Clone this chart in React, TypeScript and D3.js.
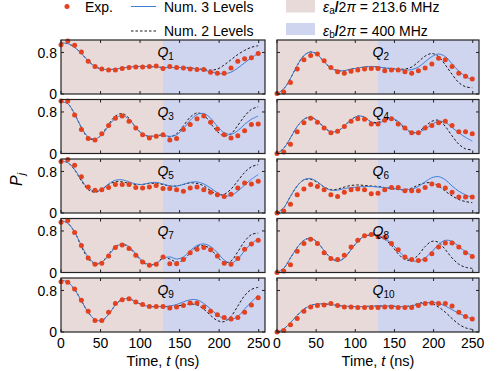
import React from 'react';
import * as d3 from 'd3';

// sample times (ns) shared by the measured points and the simulated curves
const TIMES = [0, 8.6, 17.2, 25.8, 34.4, 43, 51.6, 60.2, 68.8, 77.4, 86, 94.6, 103.2, 111.8, 120.4, 129, 137.6, 146.2, 154.8, 163.4, 172, 180.6, 189.2, 197.8, 206.4, 215, 223.6, 232.2, 240.8, 249.4];
const X_TICKS = [0, 50, 100, 150, 200, 250];
const Y_TICKS = [0, 0.8];
const SWITCH_T = 129;

const Q1_EXP = [0.95, 1.02, 0.94, 0.81, 0.63, 0.53, 0.48, 0.46, 0.46, 0.49, 0.51, 0.52, 0.52, 0.53, 0.54, 0.49, 0.53, 0.51, 0.5, 0.48, 0.47, 0.47, 0.42, 0.4, 0.4, 0.5, 0.63, 0.68, 0.7, 0.78];
const Q1_NUM3 = [0.98, 0.97, 0.9, 0.78, 0.64, 0.53, 0.48, 0.47, 0.48, 0.5, 0.52, 0.53, 0.53, 0.53, 0.52, 0.51, 0.51, 0.51, 0.51, 0.5, 0.48, 0.46, 0.43, 0.4, 0.39, 0.42, 0.5, 0.6, 0.7, 0.78];
const Q1_NUM2 = [0.98, 0.97, 0.9, 0.78, 0.64, 0.53, 0.48, 0.47, 0.48, 0.5, 0.52, 0.53, 0.53, 0.53, 0.52, 0.51, 0.51, 0.51, 0.51, 0.5, 0.49, 0.47, 0.46, 0.48, 0.56, 0.66, 0.76, 0.84, 0.9, 0.93];

const Q2_EXP = [0.01, 0.04, 0.22, 0.48, 0.66, 0.74, 0.77, 0.64, 0.51, 0.43, 0.4, 0.44, 0.46, 0.48, 0.49, 0.49, 0.45, 0.46, 0.46, 0.43, 0.4, 0.45, 0.5, 0.58, 0.69, 0.66, 0.53, 0.4, 0.34, 0.29];
const Q2_NUM3 = [0, 0.1, 0.3, 0.55, 0.74, 0.81, 0.76, 0.62, 0.5, 0.45, 0.45, 0.48, 0.5, 0.52, 0.53, 0.52, 0.5, 0.49, 0.47, 0.46, 0.47, 0.52, 0.62, 0.72, 0.77, 0.72, 0.58, 0.44, 0.34, 0.27];
const Q2_NUM2 = [0, 0.1, 0.3, 0.55, 0.74, 0.81, 0.76, 0.62, 0.5, 0.45, 0.45, 0.48, 0.5, 0.52, 0.53, 0.52, 0.5, 0.49, 0.48, 0.48, 0.52, 0.62, 0.73, 0.78, 0.72, 0.56, 0.38, 0.22, 0.14, 0.12];

const Q3_EXP = [1.01, 1.01, 0.74, 0.46, 0.29, 0.26, 0.38, 0.54, 0.68, 0.72, 0.62, 0.49, 0.36, 0.3, 0.33, 0.36, 0.26, 0.29, 0.46, 0.56, 0.67, 0.72, 0.6, 0.47, 0.36, 0.3, 0.34, 0.44, 0.56, 0.57];
const Q3_NUM3 = [1, 0.96, 0.76, 0.5, 0.32, 0.28, 0.36, 0.53, 0.68, 0.73, 0.66, 0.5, 0.38, 0.33, 0.34, 0.35, 0.33, 0.36, 0.48, 0.64, 0.75, 0.77, 0.68, 0.52, 0.4, 0.37, 0.44, 0.56, 0.66, 0.72];
const Q3_NUM2 = [1, 0.96, 0.76, 0.5, 0.3, 0.27, 0.37, 0.56, 0.72, 0.77, 0.68, 0.5, 0.37, 0.33, 0.35, 0.35, 0.32, 0.38, 0.53, 0.7, 0.78, 0.74, 0.58, 0.42, 0.34, 0.38, 0.54, 0.72, 0.85, 0.9];

const Q4_EXP = [0, 0.03, 0.18, 0.42, 0.59, 0.68, 0.6, 0.49, 0.4, 0.43, 0.52, 0.62, 0.67, 0.66, 0.57, 0.57, 0.64, 0.67, 0.57, 0.49, 0.4, 0.4, 0.49, 0.54, 0.59, 0.62, 0.54, 0.42, 0.42, 0.38];
const Q4_NUM3 = [0, 0.1, 0.3, 0.52, 0.66, 0.7, 0.63, 0.5, 0.42, 0.43, 0.53, 0.65, 0.72, 0.7, 0.6, 0.58, 0.64, 0.68, 0.62, 0.5, 0.41, 0.41, 0.47, 0.56, 0.62, 0.6, 0.5, 0.4, 0.31, 0.24];
const Q4_NUM2 = [0, 0.1, 0.3, 0.52, 0.66, 0.7, 0.63, 0.5, 0.42, 0.43, 0.53, 0.65, 0.72, 0.7, 0.61, 0.6, 0.66, 0.68, 0.6, 0.48, 0.4, 0.42, 0.52, 0.62, 0.64, 0.52, 0.34, 0.18, 0.09, 0.07];

const Q5_EXP = [0.99, 1.03, 0.92, 0.7, 0.5, 0.44, 0.45, 0.49, 0.55, 0.55, 0.55, 0.49, 0.48, 0.5, 0.53, 0.47, 0.47, 0.45, 0.42, 0.48, 0.5, 0.45, 0.4, 0.35, 0.32, 0.36, 0.48, 0.58, 0.56, 0.61];
const Q5_NUM3 = [1, 0.97, 0.84, 0.64, 0.48, 0.42, 0.46, 0.56, 0.63, 0.64, 0.6, 0.56, 0.55, 0.58, 0.59, 0.56, 0.52, 0.52, 0.55, 0.59, 0.6, 0.56, 0.48, 0.39, 0.33, 0.34, 0.42, 0.54, 0.65, 0.74];
const Q5_NUM2 = [1, 0.97, 0.83, 0.62, 0.45, 0.4, 0.45, 0.55, 0.6, 0.6, 0.57, 0.55, 0.55, 0.57, 0.57, 0.55, 0.52, 0.52, 0.55, 0.58, 0.57, 0.52, 0.43, 0.36, 0.36, 0.46, 0.62, 0.78, 0.89, 0.93];

const Q6_EXP = [0, 0.04, 0.17, 0.35, 0.46, 0.55, 0.51, 0.45, 0.35, 0.32, 0.4, 0.45, 0.46, 0.45, 0.37, 0.38, 0.45, 0.49, 0.49, 0.43, 0.43, 0.43, 0.49, 0.56, 0.53, 0.48, 0.4, 0.31, 0.31, 0.31];
const Q6_NUM3 = [0, 0.1, 0.32, 0.52, 0.64, 0.66, 0.6, 0.5, 0.44, 0.44, 0.47, 0.49, 0.5, 0.51, 0.51, 0.5, 0.49, 0.48, 0.46, 0.45, 0.46, 0.51, 0.6, 0.68, 0.7, 0.64, 0.52, 0.42, 0.35, 0.3];
const Q6_NUM2 = [0, 0.1, 0.32, 0.52, 0.64, 0.65, 0.59, 0.5, 0.45, 0.46, 0.5, 0.53, 0.54, 0.53, 0.52, 0.51, 0.49, 0.47, 0.45, 0.45, 0.48, 0.54, 0.58, 0.58, 0.52, 0.42, 0.33, 0.26, 0.22, 0.2];

const Q7_EXP = [0.97, 1, 0.77, 0.52, 0.28, 0.16, 0.18, 0.32, 0.48, 0.53, 0.46, 0.33, 0.2, 0.14, 0.16, 0.3, 0.17, 0.17, 0.25, 0.38, 0.45, 0.48, 0.44, 0.32, 0.18, 0.16, 0.27, 0.45, 0.55, 0.62];
const Q7_NUM3 = [1, 0.95, 0.78, 0.52, 0.3, 0.18, 0.2, 0.33, 0.48, 0.55, 0.5, 0.36, 0.22, 0.15, 0.17, 0.27, 0.3, 0.26, 0.3, 0.42, 0.52, 0.55, 0.5, 0.38, 0.24, 0.18, 0.26, 0.42, 0.56, 0.64];
const Q7_NUM2 = [1, 0.95, 0.78, 0.5, 0.27, 0.16, 0.2, 0.35, 0.5, 0.55, 0.48, 0.34, 0.2, 0.14, 0.18, 0.28, 0.26, 0.2, 0.24, 0.38, 0.5, 0.52, 0.45, 0.3, 0.19, 0.22, 0.4, 0.6, 0.73, 0.76];

const Q8_EXP = [0, 0.03, 0.15, 0.41, 0.56, 0.64, 0.56, 0.38, 0.27, 0.25, 0.33, 0.49, 0.62, 0.71, 0.73, 0.69, 0.68, 0.56, 0.44, 0.3, 0.25, 0.23, 0.25, 0.36, 0.49, 0.57, 0.57, 0.49, 0.38, 0.31];
const Q8_NUM3 = [0, 0.08, 0.28, 0.48, 0.62, 0.66, 0.58, 0.42, 0.28, 0.22, 0.28, 0.44, 0.6, 0.7, 0.72, 0.71, 0.66, 0.56, 0.42, 0.3, 0.23, 0.22, 0.28, 0.4, 0.54, 0.62, 0.6, 0.5, 0.4, 0.32];
const Q8_NUM2 = [0, 0.08, 0.28, 0.48, 0.62, 0.66, 0.58, 0.42, 0.28, 0.22, 0.28, 0.44, 0.6, 0.7, 0.72, 0.7, 0.64, 0.52, 0.36, 0.25, 0.24, 0.34, 0.5, 0.6, 0.58, 0.44, 0.28, 0.16, 0.1, 0.08];

const Q9_EXP = [0.97, 0.96, 0.83, 0.61, 0.4, 0.22, 0.22, 0.38, 0.55, 0.62, 0.64, 0.58, 0.53, 0.49, 0.49, 0.49, 0.46, 0.48, 0.51, 0.56, 0.56, 0.48, 0.4, 0.33, 0.28, 0.25, 0.28, 0.38, 0.52, 0.66];
const Q9_NUM3 = [1, 0.96, 0.82, 0.6, 0.38, 0.24, 0.22, 0.34, 0.52, 0.63, 0.64, 0.58, 0.52, 0.49, 0.49, 0.49, 0.5, 0.53, 0.58, 0.62, 0.62, 0.55, 0.44, 0.33, 0.26, 0.24, 0.3, 0.44, 0.58, 0.7];
const Q9_NUM2 = [1, 0.96, 0.82, 0.6, 0.38, 0.24, 0.22, 0.34, 0.52, 0.63, 0.64, 0.58, 0.52, 0.49, 0.49, 0.49, 0.49, 0.5, 0.52, 0.54, 0.52, 0.44, 0.32, 0.22, 0.2, 0.3, 0.5, 0.7, 0.82, 0.86];

const Q10_EXP = [0, 0.03, 0.14, 0.26, 0.4, 0.48, 0.51, 0.52, 0.55, 0.51, 0.48, 0.48, 0.47, 0.47, 0.47, 0.47, 0.48, 0.48, 0.47, 0.47, 0.47, 0.51, 0.55, 0.56, 0.55, 0.55, 0.5, 0.38, 0.3, 0.25];
const Q10_NUM3 = [0, 0.06, 0.18, 0.32, 0.44, 0.51, 0.54, 0.54, 0.53, 0.51, 0.5, 0.49, 0.49, 0.49, 0.5, 0.5, 0.5, 0.5, 0.49, 0.49, 0.5, 0.53, 0.56, 0.57, 0.55, 0.5, 0.43, 0.36, 0.3, 0.25];
const Q10_NUM2 = [0, 0.06, 0.18, 0.32, 0.44, 0.51, 0.54, 0.54, 0.53, 0.51, 0.5, 0.49, 0.49, 0.49, 0.5, 0.5, 0.5, 0.5, 0.49, 0.49, 0.51, 0.55, 0.57, 0.55, 0.48, 0.38, 0.26, 0.15, 0.08, 0.05];

const PANELS = [
  { n: '1', exp: Q1_EXP, num3: Q1_NUM3, num2: Q1_NUM2 },
  { n: '2', exp: Q2_EXP, num3: Q2_NUM3, num2: Q2_NUM2 },
  { n: '3', exp: Q3_EXP, num3: Q3_NUM3, num2: Q3_NUM2 },
  { n: '4', exp: Q4_EXP, num3: Q4_NUM3, num2: Q4_NUM2 },
  { n: '5', exp: Q5_EXP, num3: Q5_NUM3, num2: Q5_NUM2 },
  { n: '6', exp: Q6_EXP, num3: Q6_NUM3, num2: Q6_NUM2 },
  { n: '7', exp: Q7_EXP, num3: Q7_NUM3, num2: Q7_NUM2 },
  { n: '8', exp: Q8_EXP, num3: Q8_NUM3, num2: Q8_NUM2 },
  { n: '9', exp: Q9_EXP, num3: Q9_NUM3, num2: Q9_NUM2 },
  { n: '10', exp: Q10_EXP, num3: Q10_NUM3, num2: Q10_NUM2 },
];

const PINK = '#e8dad9';
const LAV = '#cfd4ef';
const RED = '#e3411f';
const BLUE = '#3f7fd8';
const FONT = '"Liberation Sans", Arial, sans-serif';

const COLS = [[61, 265], [277, 479]];
const TOP0 = 40;
const ROW_STEP = 59.5;
const PH = 54;

function Panel({ p, idx }: { p: typeof PANELS[number]; idx: number }) {
  const col = idx % 2;
  const row = Math.floor(idx / 2);
  const [x0, x1] = COLS[col];
  const top = TOP0 + row * ROW_STEP;
  const bottom = top + PH;
  const x = d3.scaleLinear().domain([0, 258]).range([x0, x1]);
  const y = d3.scaleLinear().domain([0, 1.04]).range([bottom, top]);
  const line = d3.line<number>().x((_, i) => x(TIMES[i])).y(v => y(v)).curve(d3.curveCatmullRom);
  const xs = x(SWITCH_T);
  const isBottom = row === 4;
  return (
    <g>
      <rect x={x0} y={top} width={xs - x0} height={PH} fill={PINK} />
      <rect x={xs} y={top} width={x1 - xs} height={PH} fill={LAV} />
      <path d={line(p.num2) || ''} fill="none" stroke="#1a1a1a" strokeWidth={1} strokeDasharray="2.5,2" />
      <path d={line(p.num3) || ''} fill="none" stroke={BLUE} strokeWidth={1} />
      {p.exp.map((v, i) => (
        <circle key={i} cx={x(TIMES[i])} cy={y(v)} r={2.5} fill={RED} />
      ))}
      <rect x={x0} y={top} width={x1 - x0} height={PH} fill="none" stroke="#222" strokeWidth={1.2} />
      {X_TICKS.map(t => (
        <g key={'xt' + t}>
          <line x1={x(t)} x2={x(t)} y1={bottom} y2={bottom - 3} stroke="#222" />
          <line x1={x(t)} x2={x(t)} y1={top} y2={top + 3} stroke="#222" />
        </g>
      ))}
      {Y_TICKS.map(v => (
        <g key={'yt' + v}>
          <line x1={x0} x2={x0 + 3} y1={y(v)} y2={y(v)} stroke="#222" />
          <line x1={x1} x2={x1 - 3} y1={y(v)} y2={y(v)} stroke="#222" />
          {col === 0 && (
            <text x={x0 - 4} y={y(v)} dy="0.36em" textAnchor="end" fontSize={14} fontFamily={FONT}>{v === 0 ? '0' : d3.format('.1f')(v)}</text>
          )}
        </g>
      ))}
      {isBottom && X_TICKS.map(t => (
        <text key={'xl' + t} x={x(t)} y={bottom + 16} textAnchor="middle" fontSize={14} fontFamily={FONT}>{t}</text>
      ))}
      {isBottom && (
        <text x={(x0 + x1) / 2} y={bottom + 34} textAnchor="middle" fontSize={14.5} fontFamily={FONT}>
          Time, <tspan fontStyle="italic">t</tspan> (ns)
        </text>
      )}
      <text x={x(122)} y={top + 17} fontSize={14} fontFamily={FONT}>
        <tspan fontStyle="italic">Q</tspan>
        <tspan fontSize={10} dy={3}>{p.n}</tspan>
      </text>
    </g>
  );
}

function Legend() {
  return (
    <g fontFamily={FONT} fontSize={14}>
      <circle cx={67} cy={6.5} r={2.5} fill={RED} />
      <text x={85} y={11.5}>Exp.</text>
      <line x1={131} x2={156} y1={6.5} y2={6.5} stroke={BLUE} strokeWidth={1} />
      <text x={164} y={11.5}>Num. 3 Levels</text>
      <line x1={131} x2={156} y1={31} y2={31} stroke="#1a1a1a" strokeWidth={1} strokeDasharray="2.5,2" />
      <text x={164} y={35.5}>Num. 2 Levels</text>
      <rect x={286} y={0} width={29} height={12.5} fill={PINK} />
      <rect x={286} y={23} width={29} height={12} fill={LAV} />
      <text x={323} y={11.5}>
        <tspan fontStyle="italic">ε</tspan><tspan fontSize={10} dy={2}>a</tspan><tspan dy={-2} fontWeight="bold">/</tspan>2<tspan fontStyle="italic">π</tspan> = 213.6 MHz
      </text>
      <text x={323} y={35.5}>
        <tspan fontStyle="italic">ε</tspan><tspan fontSize={10} dy={2}>b</tspan><tspan dy={-2} fontWeight="bold">/</tspan>2<tspan fontStyle="italic">π</tspan> = 400 MHz
      </text>
    </g>
  );
}

export default function App() {
  return (
    <svg width={500} height={371} style={{ position: 'absolute', left: 0, top: 0, background: '#fff' }}>
      <Legend />
      {PANELS.map((p, i) => <Panel key={p.n} p={p} idx={i} />)}
      <text transform="translate(22,186) rotate(-90)" fontSize={16} fontFamily={FONT}>
        <tspan fontStyle="italic">P</tspan><tspan fontSize={11} dy={3} fontStyle="italic">j</tspan>
      </text>
    </svg>
  );
}
